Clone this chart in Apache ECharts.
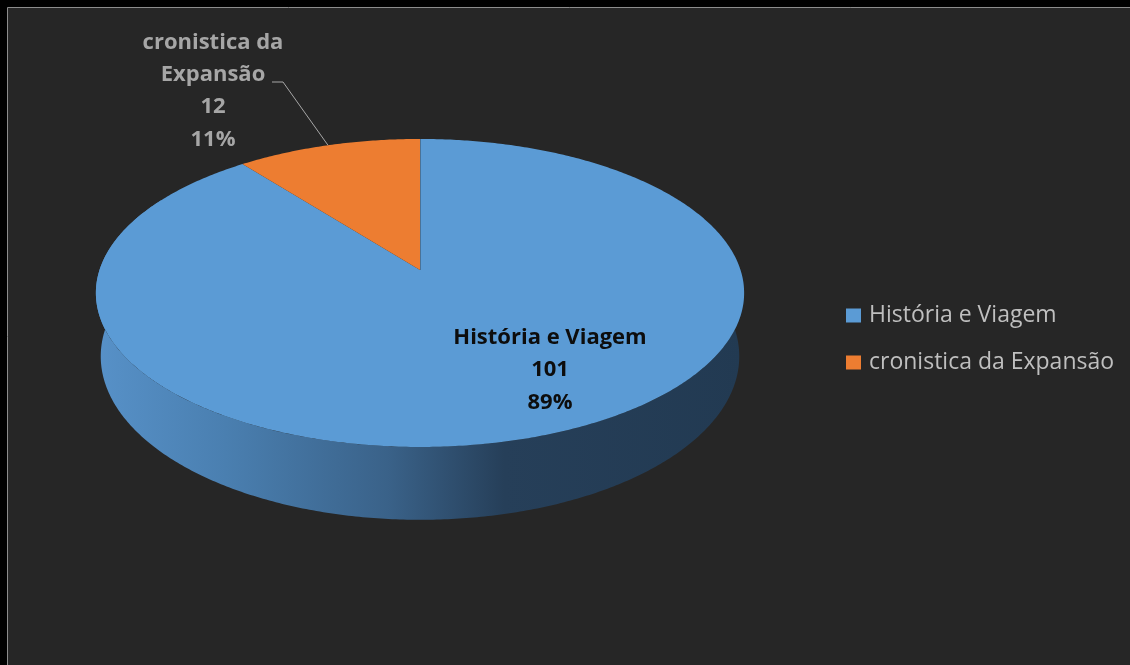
<!DOCTYPE html>
<html>
<head>
<meta charset="utf-8">
<script src="https://cdn.jsdelivr.net/npm/echarts@6/dist/echarts.min.js"></script>
<style>
html, body { margin: 0; padding: 0; background: #000; }
#chart { width: 1130px; height: 665px; }
</style>
</head>
<body>
<div id="chart"></div>
<script>
// dados
var categories = ['História e Viagem', 'cronistica da Expansão'];
var labelNames = ['História e Viagem', 'cronistica da\nExpansão'];
var values = [101, 12];
var colors = ['#5B9BD5', '#ED7D31'];

var total = values.reduce(function (a, b) { return a + b; }, 0);

// geometria do "pie 3D" (perspectiva simples)
var CX = 420, CY = 270, RX = 320.5, RY = 150.6, K = -0.149, DEPTH = 62, BOTTOM_SCALE = 0.985;
var FONT = '"Open Sans", "Noto Sans", sans-serif';

function project(theta, drop) {
    var u = Math.sin(theta), v = -Math.cos(theta);
    var d = 1 + K * v;
    var x = CX + RX * u / d;
    var y = CY + RY * v / d;
    if (drop) {
        x = CX + (x - CX) * BOTTOM_SCALE;
        y += DEPTH / d;
    }
    return [x, y];
}

function sliceAngles(i) {
    var before = 0;
    for (var k = 0; k < i; k++) before += values[k];
    return [before / total * Math.PI * 2, (before + values[i]) / total * Math.PI * 2];
}

function arc(a0, a1, drop) {
    var pts = [], n = Math.max(2, Math.ceil((a1 - a0) / 0.01));
    for (var j = 0; j <= n; j++) pts.push(project(a0 + (a1 - a0) * j / n, drop));
    return pts;
}

// lateral (parede da frente)
var WALL_FROM = Math.PI / 3, WALL_TO = Math.PI * 5 / 3;
function renderWall(params, api) {
    var i = params.dataIndex;
    var a = sliceAngles(i);
    var s = Math.max(a[0], WALL_FROM), e = Math.min(a[1], WALL_TO);
    if (e <= s) return null;
    var pts = arc(s, e, false).concat(arc(s, e, true).reverse());
    return {
        type: 'polygon',
        shape: { points: pts },
        style: {
            fill: {
                type: 'linear', x: 96, y: 0, x2: 744, y2: 0, global: true,
                colorStops: i === 0 ? [
                    { offset: 0, color: '#5791c8' },
                    { offset: 0.2, color: '#4a7fb0' },
                    { offset: 0.45, color: '#3a6289' },
                    { offset: 0.63, color: '#263f59' },
                    { offset: 1, color: '#223a52' }
                ] : [
                    { offset: 0, color: '#c96a2a' },
                    { offset: 1, color: '#6e3a17' }
                ]
            }
        }
    };
}

var labelPos = [[550, 370], [213, 91]];
var labelColor = ['#0d0d0d', '#a6a6a6'];

function makeTop(idx) {
    return function (params, api) {
        var a = sliceAngles(idx);
        var apex = [CX, CY];
        var pts = [apex].concat(arc(a[0], a[1], false));
        var pct = Math.round(api.value(0) / total * 100) + '%';
        var children = [{
            type: 'polygon',
            shape: { points: pts },
            style: { fill: colors[idx] }
        }];
        if (idx === 0) {
            var p0 = project(a[0], false);
            children.push({
                type: 'line',
                shape: { x1: apex[0], y1: apex[1], x2: p0[0], y2: p0[1] },
                style: { stroke: '#3f5870', lineWidth: 1.2 }
            });
        }
        if (idx === 1) {
            var mid = project((a[0] + a[1]) / 2, false);
            children.push({
                type: 'polyline',
                shape: { points: [[272, 82], [283, 82], mid] },
                style: { stroke: '#a6a6a6', lineWidth: 1, fill: null }
            });
        }
        children.push({
            type: 'text',
            x: labelPos[idx][0],
            y: labelPos[idx][1],
            style: {
                text: labelNames[idx] + '\n' + api.value(0) + '\n' + pct,
                fill: labelColor[idx],
                font: 'bold 22px ' + FONT,
                align: 'center',
                verticalAlign: 'middle',
                lineHeight: 32.4
            }
        });
        return { type: 'group', children: children };
    };
}

var myChart = echarts.init(document.getElementById('chart'));

var series = [{
    name: 'lateral',
    type: 'custom',
    coordinateSystem: 'none',
    z: 1,
    renderItem: renderWall,
    data: values
}];
categories.forEach(function (name, i) {
    series.push({
        name: name,
        type: 'custom',
        coordinateSystem: 'none',
        z: 2,
        itemStyle: { color: colors[i] },
        renderItem: makeTop(i),
        data: [values[i]]
    });
});

var option = {
    backgroundColor: '#000',
    animation: false,
    graphic: [{
        type: 'rect',
        z: -10,
        shape: { x: 7.5, y: 7.5, width: 1140, height: 680 },
        style: { fill: '#262626', stroke: '#8c8c8c', lineWidth: 1 }
    }],
    legend: {
        data: categories,
        orient: 'vertical',
        left: 841,
        top: 299,
        itemWidth: 15,
        itemHeight: 14,
        itemGap: 24,
        icon: 'rect',
        textStyle: { color: '#bfbfbf', fontSize: 23, fontFamily: FONT, padding: [0, 0, 0, 3] }
    },
    series: series
};

myChart.setOption(option);
</script>
</body>
</html>
